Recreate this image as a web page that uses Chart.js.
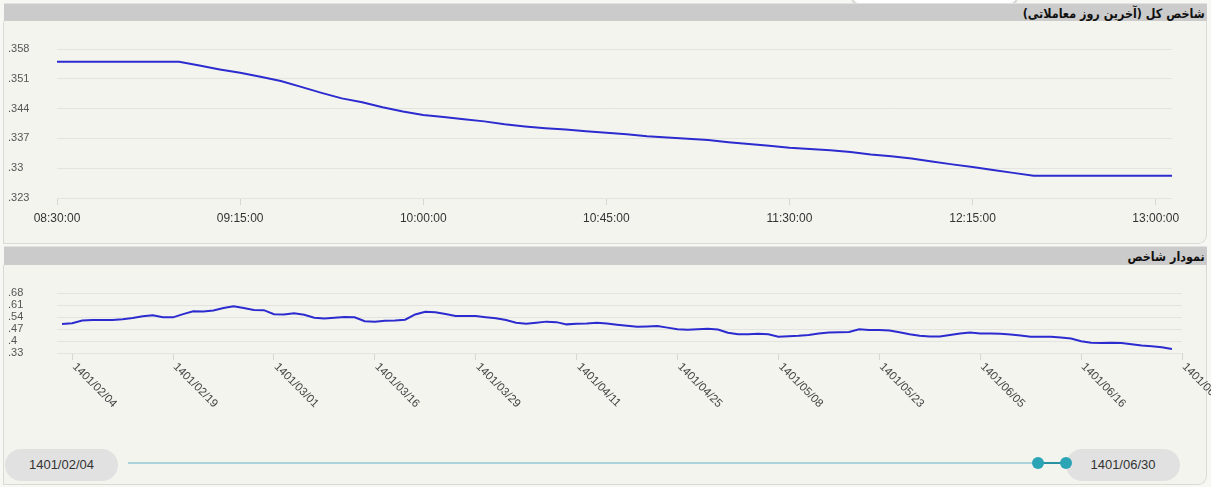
<!DOCTYPE html>
<html>
<head>
<meta charset="utf-8">
<script src="https://cdn.jsdelivr.net/npm/chart.js@4.4.1/dist/chart.umd.min.js"></script>
<style>
  html,body{margin:0;padding:0;width:1211px;height:487px;overflow:hidden;background:#f7f7f4;font-family:"Liberation Sans",Arial,sans-serif}
  .tab{position:absolute;left:852px;top:-10px;width:163px;height:12px;background:#fff;border:1px solid #c8c8c8;border-radius:0 0 6px 6px;box-shadow:0 1px 2px #ccc}
  .head{position:absolute;left:4px;width:1201px;background:#cbcbcb;border-bottom:1px solid #9b9b9b;border-top:1px solid #e2e2e2;
        text-align:right;color:#111;padding-right:2px}
  .head span{display:inline-block;font:bold 13px "DejaVu Sans",sans-serif;transform:scaleX(0.86);transform-origin:right center;white-space:nowrap}
  .panel{position:absolute;left:3px;width:1202px;background:#f4f4ef;border:1px solid #d9d9d6;border-top:none;border-radius:0 0 9px 0}
  canvas{position:absolute;left:0}
  .pill{position:absolute;top:449px;height:32px;line-height:32px;border-radius:16px;background:#e1e1e1;color:#333;font-size:13px;text-align:center}
  .track{position:absolute;left:128px;top:462px;width:910px;height:2px;background:#a9d3d8}
  .range{position:absolute;left:1038px;top:462px;width:28px;height:2px;background:#2a93a3}
  .dot{position:absolute;top:457px;width:12px;height:12px;border-radius:50%;background:#2ba4b6}
</style>
</head>
<body>
<div class="tab"></div>
<div class="head" dir="rtl" style="top:3px;height:17px;line-height:17px"><span>شاخص کل (آخرین روز معاملاتی)</span></div>
<div class="panel" style="top:21px;height:222px"></div>
<div class="head" dir="rtl" style="top:246px;height:18px;line-height:18px"><span>نمودار شاخص</span></div>
<div class="panel" style="top:265px;height:219px"></div>
<canvas id="c1" width="1211" height="222" style="top:21px"></canvas>
<canvas id="c2" width="1211" height="175" style="top:265px"></canvas>
<div class="pill" style="left:5px;width:113px">1401/02/04</div>
<div class="pill" style="left:1066px;width:114px">1401/06/30</div>
<div class="track"></div>
<div class="range"></div>
<div class="dot" style="left:1032px"></div>
<div class="dot" style="left:1060px"></div>
<script>
// ---- intraday index (last trading day) ----
const intradayTimes = ["08:30","08:35","08:40","08:45","08:50","08:55","09:00","09:05","09:10","09:15",
  "09:20","09:25","09:30","09:35","09:40","09:45","09:50","09:55","10:00","10:05",
  "10:10","10:15","10:20","10:25","10:30","10:35","10:40","10:45","10:50","10:55",
  "11:00","11:05","11:10","11:15","11:20","11:25","11:30","11:35","11:40","11:45",
  "11:50","11:55","12:00","12:05","12:10","12:15","12:20","12:25","12:30","12:35",
  "12:40","12:45","12:50","12:55","13:00","13:04"];
const intradayValues = [355.0,355.0,355.0,355.0,355.0,355.0,355.0,354.1,353.2,352.4,
  351.5,350.5,349.1,347.7,346.4,345.5,344.3,343.3,342.5,342.0,
  341.5,341.0,340.3,339.8,339.4,339.1,338.7,338.3,338.0,337.5,
  337.2,336.9,336.6,336.1,335.7,335.3,334.8,334.5,334.2,333.8,
  333.2,332.8,332.3,331.6,330.9,330.3,329.6,328.9,328.2,328.2,
  328.2,328.2,328.2,328.2,328.2,328.2];
const intradayTicks = ["08:30:00","09:15:00","10:00:00","10:45:00","11:30:00","12:15:00","13:00:00"];
const intradayYTicks = [323,330,337,344,351,358];

// ---- daily index chart ----
const dailyValues = [49.9,50.4,52.0,52.2,52.2,52.3,52.7,53.4,54.4,55.0,
  53.8,53.8,55.7,57.3,57.2,57.8,59.2,60.3,59.2,58.1,
  58.0,55.6,55.4,56.2,55.3,53.6,53.1,53.6,54.0,53.8,
  51.5,51.3,51.8,51.9,52.4,55.5,57.0,56.8,55.8,54.6,
  54.6,54.6,53.9,53.3,52.2,50.6,50.0,50.6,51.3,51.0,
  49.7,50.0,50.2,50.6,50.2,49.5,48.9,48.3,48.5,48.8,
  47.8,46.9,46.6,46.8,47.1,46.7,44.8,43.9,44.0,44.3,
  43.9,42.5,42.7,43.0,43.5,44.4,45.0,45.1,45.3,46.8,
  46.4,46.4,46.1,45.1,43.9,43.1,42.6,42.6,43.5,44.4,
  44.9,44.4,44.4,44.2,43.8,43.2,42.5,42.5,42.5,42.0,
  41.4,39.9,39.0,38.8,39.0,38.9,38.1,37.4,37.0,36.4,35.3];
const dailyTickIndex = [1,11,21,31,41,51,61,71,81,91,101,111];
const dailyTickLabels = ["1401/02/04","1401/02/19","1401/03/01","1401/03/16","1401/03/29","1401/04/11",
  "1401/04/25","1401/05/08","1401/05/23","1401/06/05","1401/06/16","1401/06/30"];
const dailyYTicks = [33,40,47,54,61,68];

const LINE = "#2b2bcf", GRID = "#e3e3df", TICKC = "#d6d6d2";
const toMin = s => { const p = s.split(":"); return (+p[0])*60 + (+p[1]); };
// value shown without the leading integer part, trailing zeros dropped: 330 -> ".33"
const fracLabel = (v, div) => (v/div).toString().replace(/^0/, "");

Chart.defaults.font.family = '"Liberation Sans", Arial, sans-serif';
Chart.defaults.animation = false;

new Chart(document.getElementById("c1"), {
  type: "line",
  data: { datasets: [{
    data: intradayTimes.map((t,i)=>({x: toMin(t), y: intradayValues[i]})),
    borderColor: LINE, borderWidth: 2, pointRadius: 0, tension: 0, fill: false
  }]},
  options: {
    responsive: false,
    layout: { padding: { left: 8, top: 28, right: 39, bottom: 15 } },
    plugins: { legend: { display: false }, tooltip: { enabled: false } },
    scales: {
      x: {
        type: "linear", min: toMin("08:30"), max: toMin("13:04"),
        afterBuildTicks: s => { s.ticks = intradayTicks.map(t => ({ value: toMin(t) })); },
        afterFit: s => { s.height = 30; },
        border: { display: false },
        grid: { drawOnChartArea: false, tickLength: 7, color: TICKC },
        ticks: { padding: 6, color: "#333", font: { size: 12 }, maxRotation: 0, autoSkip: false,
                 callback: (v, i) => intradayTicks[i] }
      },
      y: {
        min: 323, max: 358,
        afterBuildTicks: s => { s.ticks = intradayYTicks.map(v => ({ value: v })); },
        afterFit: s => { s.width = 49; },
        border: { display: false },
        grid: { color: GRID, drawTicks: false },
        ticks: { crossAlign: "far", color: "#555", font: { size: 11 }, autoSkip: false,
                 callback: v => fracLabel(v, 1000) }
      }
    }
  }
});

const slantLabels = {
  id: "slantLabels",
  afterDraw(chart) {
    const sx = chart.scales.x, ctx = chart.ctx;
    ctx.save();
    ctx.font = '11.5px "Liberation Sans", Arial, sans-serif';
    ctx.fillStyle = "#444";
    ctx.textAlign = "left";
    ctx.textBaseline = "middle";
    sx.ticks.forEach((t, i) => {
      const px = sx.getPixelForValue(t.value);
      ctx.save();
      ctx.translate(px + 2, sx.top + 12);
      ctx.rotate(Math.PI / 4);
      ctx.fillText(dailyTickLabels[i], 0, 0);
      ctx.restore();
    });
    ctx.restore();
  }
};

new Chart(document.getElementById("c2"), {
  type: "line",
  data: { datasets: [{
    data: dailyValues.map((v,i)=>({x: i, y: v})),
    borderColor: LINE, borderWidth: 2, pointRadius: 0, tension: 0, fill: false
  }]},
  options: {
    responsive: false,
    layout: { padding: { left: 8, top: 28, right: 29, bottom: 57 } },
    plugins: { legend: { display: false }, tooltip: { enabled: false } },
    scales: {
      x: {
        type: "linear", min: -0.5, max: 111,
        afterBuildTicks: s => { s.ticks = dailyTickIndex.map(v => ({ value: v })); },
        afterFit: s => { s.height = 30; },
        border: { display: false },
        grid: { drawOnChartArea: false, tickLength: 7, color: TICKC },
        ticks: { display: false }
      },
      y: {
        min: 33, max: 68,
        afterBuildTicks: s => { s.ticks = dailyYTicks.map(v => ({ value: v })); },
        afterFit: s => { s.width = 49; },
        border: { display: false },
        grid: { color: GRID, drawTicks: false },
        ticks: { crossAlign: "far", color: "#555", font: { size: 11 }, padding: 0, autoSkip: false,
                 callback: v => fracLabel(v, 100) }
      }
    }
  },
  plugins: [slantLabels]
});
</script>
</body>
</html>
